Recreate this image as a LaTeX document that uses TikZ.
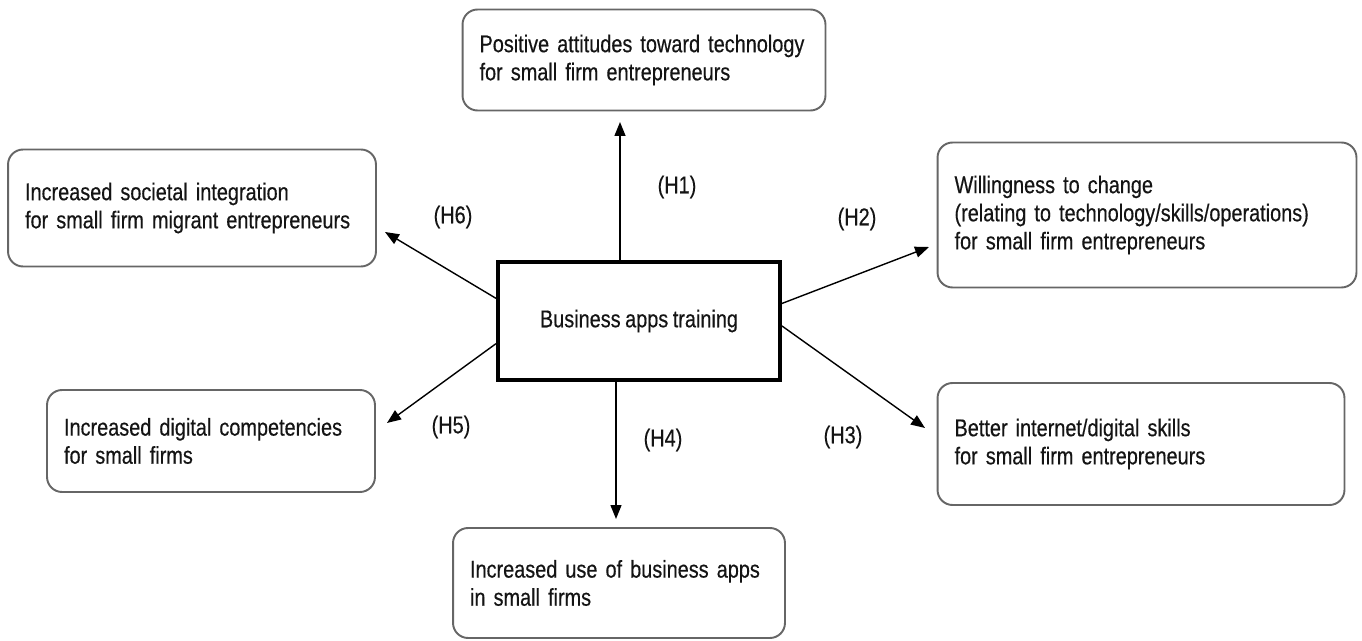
\documentclass[tikz,border=0pt]{standalone}
\usepackage{fontspec}
\setmainfont[FakeStretch=0.82, WordSpace=0.82, FakeBold=0.4]{Liberation Sans}
\usetikzlibrary{arrows.meta}
\begin{document}
\begin{tikzpicture}[x=0.02cm, y=-0.02cm,
  every node/.style={font=\fontsize{13.8}{16}\selectfont, text=black!92},
  outcome/.style={draw=black!60, line width=1.1pt, rounded corners=0.3cm,
    align=left, inner xsep=0.34cm, inner ysep=0pt},
  training/.style={draw, line width=2.3pt, minimum width=5.64cm, minimum height=2.36cm},
  hyp/.style={inner sep=0pt},
  link/.style={line width=0.8pt, -{Triangle[length=0.28cm, width=0.22cm]}}]
\useasboundingbox (0,0) rectangle (1362,641);
% central box
\node[training] (train) at (639,321) {Business apps training};
% outcome boxes
\node[outcome, minimum width=7.26cm, minimum height=2.02cm, text width=6.58cm] (att) at (644,60)
  {Positive attitudes toward technology\\for small firm entrepreneurs};
\node[outcome, minimum width=8.38cm, minimum height=2.9cm, text width=7.7cm] (will) at (1147,215)
  {Willingness to change\\(relating to technology/skills/operations)\\for small firm entrepreneurs};
\node[outcome, minimum width=8.14cm, minimum height=2.44cm, text width=7.46cm] (skill) at (1141,444)
  {Better internet/digital skills\\for small firm entrepreneurs\\[0.3cm]};
\node[outcome, minimum width=6.64cm, minimum height=2.2cm, text width=5.96cm] (use) at (619,583)
  {Increased use of business apps\\in small firms};
\node[outcome, minimum width=6.56cm, minimum height=2.04cm, text width=5.88cm] (comp) at (211,441)
  {Increased digital competencies\\for small firms};
\node[outcome, minimum width=7.36cm, minimum height=2.34cm, text width=6.68cm] (soc) at (192,208)
  {Increased societal integration\\for small firm migrant entrepreneurs};
% arrow tips
\coordinate (t1) at (620,122);
\coordinate (t2) at (929,247);
\coordinate (t3) at (925,428);
\coordinate (t4) at (616,519);
\coordinate (t5) at (387,423);
\coordinate (t6) at (385,232);
\draw[link] (train.north -| t1) -- (t1);
\draw[link] (train.7.3) -- (t2);
\draw[link] (train.-2.8) -- (t3);
\draw[link] (train.south -| t4) -- (t4);
\draw[link] (train.189) -- (t5);
\draw[link] (train.171) -- (t6);
% hypothesis labels
\node[hyp] (h1) at (677,187) {(H1)};
\node[hyp] (h2) at (857,219) {(H2)};
\node[hyp] (h3) at (843,437) {(H3)};
\node[hyp] (h4) at (663,440) {(H4)};
\node[hyp] (h5) at (451,427) {(H5)};
\node[hyp] (h6) at (453,217) {(H6)};
\end{tikzpicture}
\end{document}
